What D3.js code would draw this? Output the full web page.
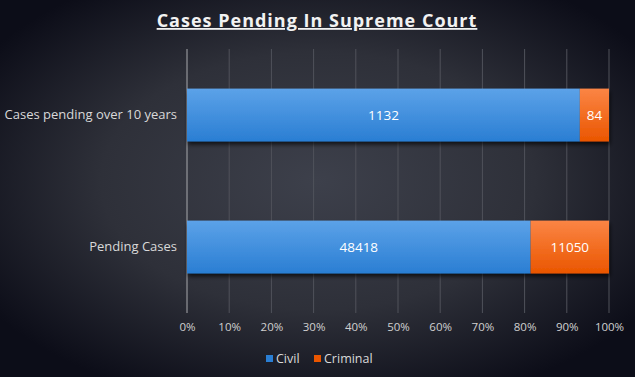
<!DOCTYPE html>
<html>
<head>
<meta charset="utf-8">
<script src="https://cdn.jsdelivr.net/npm/d3@7"></script>
<style>
  body { margin: 0; background: #16171f; }
  text { font-family: "Open Sans", "DejaVu Sans", sans-serif; }
</style>
</head>
<body>
<svg id="fig" width="635" height="377"></svg>
<script>
// data
const categories = ["Cases pending over 10 years", "Pending Cases"];
const seriesNames = ["Civil", "Criminal"];
const civil = [1132, 48418];
const criminal = [84, 11050];
const tickLabels = ["0%", "10%", "20%", "30%", "40%", "50%", "60%", "70%", "80%", "90%", "100%"];

const svg = d3.select("#fig");
const width = +svg.attr("width");
const height = +svg.attr("height");
const margin = { left: 187, top: 49, right: 26, bottom: 64 };

const defs = svg.append("defs");

// background
const bg = defs.append("radialGradient").attr("id", "bg")
  .attr("cx", "50%").attr("cy", "48%").attr("r", "62%");
bg.append("stop").attr("offset", "0%").attr("stop-color", "#3d404b");
bg.append("stop").attr("offset", "55%").attr("stop-color", "#2e3039");
bg.append("stop").attr("offset", "100%").attr("stop-color", "#0c0d18");
svg.append("rect").attr("width", width).attr("height", height).attr("fill", "url(#bg)");

const colors = { Civil: ["#5ca2e8", "#2a7ed3"], Criminal: ["#fb8545", "#ea5600"] };
seriesNames.forEach(s => {
  const g = defs.append("linearGradient").attr("id", "g" + s)
    .attr("x1", 0).attr("y1", 0).attr("x2", 0).attr("y2", 1);
  g.append("stop").attr("offset", "0%").attr("stop-color", colors[s][0]);
  g.append("stop").attr("offset", "100%").attr("stop-color", colors[s][1]);
});
const shadow = defs.append("filter").attr("id", "shadow")
  .attr("x", "-5%").attr("y", "-10%").attr("width", "110%").attr("height", "130%");
shadow.append("feDropShadow").attr("dx", 1).attr("dy", 3).attr("stdDeviation", 2)
  .attr("flood-color", "#000").attr("flood-opacity", 0.7);

// scales
const x = d3.scaleLinear().domain([0, 1]).range([margin.left, width - margin.right]);
const y = d3.scaleBand().domain(categories)
  .range([margin.top, height - margin.bottom]).paddingInner(0.6).paddingOuter(0.3);

// gridlines
svg.append("g").selectAll("line").data(d3.range(1, 11).map(i => i / 10)).join("line")
  .attr("x1", d => x(d)).attr("x2", d => x(d))
  .attr("y1", margin.top).attr("y2", height - margin.bottom)
  .attr("stroke", "#50525b").attr("stroke-width", 1);

// axis line
svg.append("line")
  .attr("x1", x(0)).attr("x2", x(0))
  .attr("y1", margin.top).attr("y2", height - margin.bottom)
  .attr("stroke", "#a8a9ad").attr("stroke-width", 1);

// x tick labels
const xAxis = d3.axisBottom(x).tickValues(d3.range(0, 11).map(i => i / 10))
  .tickFormat((d, i) => tickLabels[i]).tickSize(0).tickPadding(10);
const xg = svg.append("g").attr("transform", `translate(0,${height - margin.bottom})`).call(xAxis);
xg.select(".domain").remove();
xg.selectAll("text").attr("fill", "#d0d0d0").attr("font-size", 11.5);

// y labels
const yAxis = d3.axisLeft(y).tickSize(0).tickPadding(10);
const yg = svg.append("g").attr("transform", `translate(${margin.left},0)`).call(yAxis);
yg.select(".domain").remove();
yg.selectAll("text").attr("fill", "#d9d9d9").attr("font-size", 13);

// stacked bars
const rows = categories.map((c, i) => ({ cat: c, Civil: civil[i], Criminal: criminal[i] }));
const stack = d3.stack().keys(seriesNames).offset(d3.stackOffsetExpand);
const layers = stack(rows);

svg.append("g").attr("filter", "url(#shadow)")
  .selectAll("g").data(layers).join("g")
  .attr("fill", d => `url(#g${d.key})`)
  .selectAll("rect").data(d => d).join("rect")
  .attr("x", d => x(d[0]))
  .attr("width", d => x(d[1]) - x(d[0]))
  .attr("y", d => y(d.data.cat))
  .attr("height", y.bandwidth());

// value labels
layers.forEach(layer => {
  svg.append("g").selectAll("text").data(layer).join("text")
    .attr("x", d => (x(d[0]) + x(d[1])) / 2)
    .attr("y", d => y(d.data.cat) + y.bandwidth() / 2)
    .attr("dy", "0.35em")
    .attr("text-anchor", "middle")
    .attr("fill", "#ffffff")
    .attr("font-size", 13.5)
    .text(d => d.data[layer.key]);
});

// title
svg.append("text")
  .attr("x", 317).attr("y", 27)
  .attr("text-anchor", "middle")
  .attr("fill", "#f2f2f2")
  .attr("font-size", 18)
  .attr("font-weight", "bold")
  .attr("letter-spacing", 1)
  .attr("text-decoration", "underline")
  .text("Cases Pending In Supreme Court");

// legend
const legend = svg.append("g").attr("transform", "translate(266,359)");
const legX = [0, 48];
seriesNames.forEach((s, i) => {
  legend.append("rect").attr("x", legX[i]).attr("y", -4).attr("width", 7).attr("height", 7)
    .attr("fill", colors[s][1]);
  legend.append("text").attr("x", legX[i] + 10).attr("y", 0).attr("dy", "0.35em")
    .attr("fill", "#d9d9d9").attr("font-size", 12.5).text(s);
});
</script>
</body>
</html>
